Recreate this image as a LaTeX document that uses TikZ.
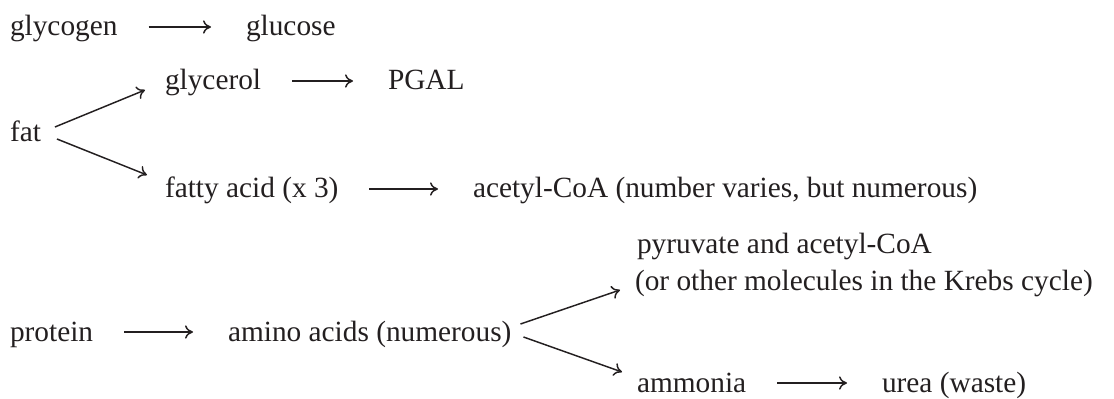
\documentclass[tikz,border=0pt]{standalone}
\usepackage{fontspec}
\setmainfont{Liberation Serif}
\usetikzlibrary{arrows.meta}

\definecolor{inkc}{RGB}{35,31,32}

\begin{document}
\begin{tikzpicture}[
  x=0.75pt, y=-0.75pt,
  term/.style  = {anchor=base west, inner sep=0pt, outer sep=0pt, text=inkc,
                  font=\fontsize{22}{26}\selectfont},
  arrow/.style = {draw=inkc, line width=1.1pt, -{To[length=6pt, width=10pt]}},
  step_arrow/.style = {arrow, shorten <=23.25pt, shorten >=26.25pt}
]
\useasboundingbox (0,0) rectangle (1114,399);

%--------------------------------------------------
% Molecules (text nodes)
%--------------------------------------------------
\node[term] (glycogen) at (10,36)  {glycogen};
\node[term] (glucose)  at (246,36) {glucose};

\node[term] (glycerol) at (165,90) {glycerol};
\node[term] (pgal)     at (388,90) {PGAL};
\node[term] (fat)      at (10,142) {fat};
\node[term] (fatty)    at (165,198) {fatty acid (x 3)};
\node[term] (acetyl)   at (473,198) {acetyl-CoA (number varies, but numerous)};

\node[term] (pyruvate) at (637,253) {pyruvate and acetyl-CoA};
\node[term] (krebs)    at (635,290) {(or other molecules in the Krebs cycle)};
\node[term] (protein)  at (10,341)  {protein};
\node[term] (amino)    at (228,341) {amino acids (numerous)};
\node[term] (ammonia)  at (637,392) {ammonia};
\node[term] (urea)     at (882,392) {urea (waste)};

%--------------------------------------------------
% Conversions
%--------------------------------------------------

% straight steps
\draw[step_arrow] ([yshift=6.75pt]glycogen.base east) -- ([yshift=6.75pt]glucose.base west);
\draw[step_arrow] ([yshift=6.75pt]glycerol.base east) -- ([yshift=6.75pt]pgal.base west);
\draw[step_arrow] ([yshift=6.75pt]fatty.base east) -- ([yshift=6.75pt]acetyl.base west);
\draw[step_arrow] ([yshift=6.75pt]protein.base east) -- ([yshift=6.75pt]amino.base west);
\draw[step_arrow] ([yshift=6.75pt]ammonia.base east) -- ([yshift=6.75pt]urea.base west);

% fat splits
\draw[arrow] ([xshift=10.5pt, yshift=11.25pt]fat.base east) -- ([xshift=-15pt]glycerol.base west);
\draw[arrow] ([xshift=12pt, yshift=2.25pt]fat.base east) -- ([xshift=-13.5pt, yshift=17.25pt]fatty.base west);

% amino acids split
\draw[arrow] ([xshift=6.75pt, yshift=12.75pt]amino.base east) -- ([xshift=-11.25pt]krebs.base west);
\draw[arrow] ([xshift=9pt, yshift=3pt]amino.base east) -- ([xshift=-11.25pt, yshift=15pt]ammonia.base west);

\end{tikzpicture}
\end{document}
